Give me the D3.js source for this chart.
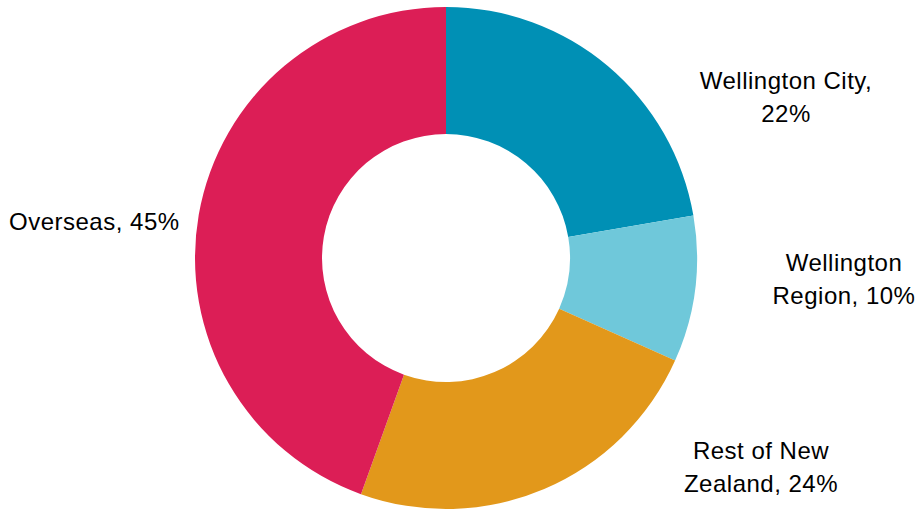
<!DOCTYPE html>
<html>
<head>
<meta charset="utf-8">
<script src="https://cdn.jsdelivr.net/npm/d3@7"></script>
<style>
  html, body { margin: 0; padding: 0; background: #fff; }
  svg { display: block; }
  .label { font-family: "Liberation Sans", Arial, sans-serif; font-size: 24px; letter-spacing: 0.5px; fill: #000; }
</style>
</head>
<body>
<div id="chart"></div>
<script>
// Data (clockwise from 12 o'clock)
const categories = ['Wellington City', 'Wellington Region', 'Rest of New Zealand', 'Overseas'];
const values = [22.3, 9.4, 23.8, 44.5];
const percentLabels = ['22%', '10%', '24%', '45%'];
const colors = ['#0090b5', '#6fc8da', '#e2981b', '#dc1e56'];

// Label text lines (as wrapped in the original)
const labelLines = [
  ['Wellington City,', '22%'],
  ['Wellington', 'Region, 10%'],
  ['Rest of New', 'Zealand, 24%'],
  ['Overseas, 45%']
];

// Label layout: anchor point and alignment
const labelLayout = [
  { x: 786, y: 89, anchor: 'middle' },
  { x: 844, y: 271, anchor: 'middle' },
  { x: 761, y: 459, anchor: 'middle' },
  { x: 9, y: 230, anchor: 'start' }
];

const width = 920;
const height = 510;
const cx = 446;
const cy = 258;
const outerRadius = 251;
const innerRadius = 124;
const lineHeight = 33;

const svg = d3.select('#chart')
  .append('svg')
  .attr('width', width)
  .attr('height', height);

const g = svg.append('g')
  .attr('transform', `translate(${cx}, ${cy})`);

const pie = d3.pie()
  .sort(null)
  .value(d => d);

const arc = d3.arc()
  .innerRadius(innerRadius)
  .outerRadius(outerRadius);

// Slices
g.selectAll('.slice')
  .data(pie(values))
  .enter()
  .append('path')
  .attr('class', 'slice')
  .attr('fill', (d, i) => colors[i])
  .attr('d', arc);

// Labels
const labels = svg.selectAll('.label')
  .data(categories)
  .enter()
  .append('text')
  .attr('class', 'label')
  .attr('text-anchor', (d, i) => labelLayout[i].anchor)
  .attr('x', (d, i) => labelLayout[i].x)
  .attr('y', (d, i) => labelLayout[i].y);

labels.each(function(d, i) {
  const text = d3.select(this);
  labelLines[i].forEach((line, j) => {
    text.append('tspan')
      .attr('x', labelLayout[i].x)
      .attr('dy', j === 0 ? 0 : lineHeight)
      .text(line);
  });
});
</script>
</body>
</html>
